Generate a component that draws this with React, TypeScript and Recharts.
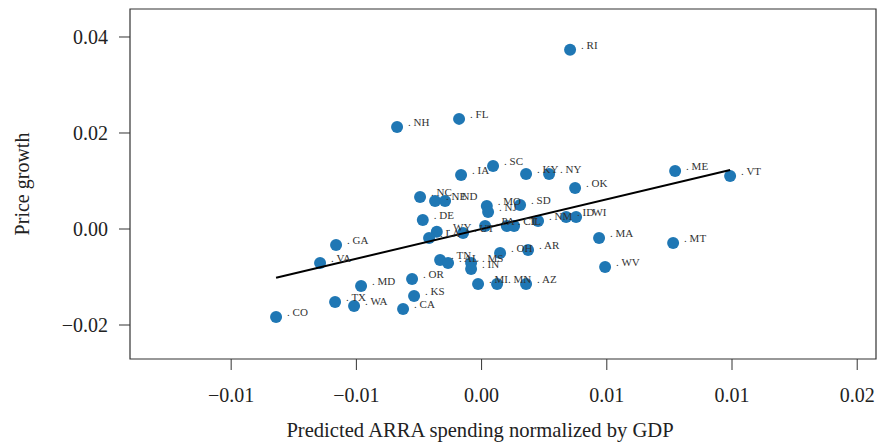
import React from "react";
import {
  ScatterChart,
  Scatter,
  XAxis,
  YAxis,
  ReferenceArea,
} from "recharts";

// state abbreviations, predicted ARRA spending / GDP, price growth
const states = [
  "RI", "NH", "FL", "IA", "SC", "KY", "NY", "OK", "ME", "VT",
  "NC", "NE", "ND", "MO", "NJ", "SD", "DE", "WY", "LA", "UT",
  "PA", "CT", "IL", "NM", "ID", "WI", "GA", "VA", "MA", "MT",
  "WV", "OH", "AR", "TN", "AL", "MS", "IN", "OR", "MD", "MI",
  "MN", "AZ", "KS", "TX", "WA", "CA", "CO",
];
const spending = [
  0.003534, -0.003375, -0.000899, -0.000819, 0.000459, 0.001777, 0.002696, 0.003734, 0.007728, 0.009924,
  -0.002456, -0.001857, -0.001458, 0.000208, 0.00026, 0.001538, -0.002348, -0.001789, -0.002097, -0.000739,
  0.00014, 0.001006, 0.001298, 0.002256, 0.003375, 0.003774, -0.005811, -0.00645, 0.004692, 0.007648,
  0.004932, 0.000739, 0.001857, -0.001657, -0.001338, -0.000419, -0.000419, -0.002776, -0.004812, -0.00014,
  0.000619, 0.001777, -0.002696, -0.00585, -0.005092, -0.003135, -0.008207,
];
const priceGrowth = [
  0.03733, 0.02127, 0.02294, 0.01126, 0.01314, 0.01147, 0.01147, 0.00855, 0.0121, 0.01105,
  0.00667, 0.00584, 0.00584, 0.0048, 0.00355, 0.005, 0.00188, -0.00056, -0.00188, -0.00083,
  0.00063, 0.00063, 0.00063, 0.00167, 0.0025, 0.0025, -0.00334, -0.00709, -0.00188, -0.00292,
  -0.00792, -0.005, -0.00438, -0.00646, -0.00709, -0.00709, -0.00834, -0.01043, -0.01189, -0.01147,
  -0.01147, -0.01147, -0.01397, -0.01522, -0.01606, -0.01668, -0.01835,
];

// fitted line endpoints
const fitX = [-0.008207, 0.009924];
const fitY = [-0.01016, 0.0123];

const xTicks = [-0.01, -0.005, 0, 0.005, 0.01, 0.015];
const xTickLabels = ["\u22120.01", "\u22120.01", "0.00", "0.01", "0.01", "0.02"];
const yTicks = [-0.02, 0, 0.02, 0.04];
const yTickLabels = ["\u22120.02", "0.00", "0.02", "0.04"];

const X_DOMAIN: [number, number] = [-0.01404, 0.01575];
const Y_DOMAIN: [number, number] = [-0.02708, 0.04583];

const FONT = "'Liberation Serif', 'DejaVu Serif', serif";
const BLUE = "#1f77b4";

const points = states.map((s, i) => ({ state: s, x: spending[i], y: priceGrowth[i] }));
const fit = fitX.map((x, i) => ({ x, y: fitY[i] }));

export default function App() {
  return (
    <div style={{ position: "absolute", left: 0, top: 0, width: 877, height: 443, background: "#fff" }}>
      <ScatterChart
        width={877}
        height={443}
        margin={{ top: 9, right: 1, bottom: 0, left: 0 }}
        style={{ fontFamily: FONT }}
      >
        <XAxis
          type="number"
          dataKey="x"
          domain={X_DOMAIN}
          ticks={xTicks}
          allowDataOverflow
          height={84}
          axisLine={false}
          tickLine={{ stroke: "#333" }}
          tickSize={11}
          tickMargin={18}
          tick={{ fill: "#222", fontSize: 20, fontFamily: FONT }}
          tickFormatter={(v: number) => xTickLabels[xTicks.indexOf(v)]}
          label={{
            content: ({ viewBox }: any) => (
              <text
                x={viewBox.x + viewBox.width / 2 - 23}
                y={437}
                textAnchor="middle"
                fill="#222"
                fontSize={20.6}
                fontFamily={FONT}
              >
                Predicted ARRA spending normalized by GDP
              </text>
            ),
          }}
        />
        <YAxis
          type="number"
          dataKey="y"
          domain={Y_DOMAIN}
          ticks={yTicks}
          allowDataOverflow
          width={130}
          axisLine={false}
          tickLine={{ stroke: "#333" }}
          tickSize={11}
          tickMargin={11}
          tick={{ fill: "#222", fontSize: 20, fontFamily: FONT }}
          tickFormatter={(v: number) => yTickLabels[yTicks.indexOf(v)]}
          label={{
            content: ({ viewBox }: any) => {
              const cy = viewBox.y + viewBox.height / 2;
              return (
                <text
                  x={22}
                  y={cy}
                  transform={`rotate(-90, 22, ${cy})`}
                  textAnchor="middle"
                  dominantBaseline="central"
                  fill="#222"
                  fontSize={20}
                  fontFamily={FONT}
                >
                  Price growth
                </text>
              );
            },
          }}
        />
        <ReferenceArea
          x1={X_DOMAIN[0]}
          x2={X_DOMAIN[1]}
          y1={Y_DOMAIN[0]}
          y2={Y_DOMAIN[1]}
          fill="none"
          fillOpacity={0}
          stroke="#333"
          strokeWidth={1.2}
        />
        <Scatter
          data={points}
          isAnimationActive={false}
          shape={(p: any) => <circle cx={p.cx} cy={p.cy} r={6} fill={BLUE} />}
        />
        <Scatter
          data={fit}
          isAnimationActive={false}
          line={{ stroke: "#000", strokeWidth: 2 }}
          shape={() => <g />}
        />
        <Scatter
          data={points}
          isAnimationActive={false}
          shape={(p: any) => (
            <text x={p.cx + 11} y={p.cy - 1} fontSize={11} fill="#333" fontFamily={FONT}>
              . {p.payload.state}
            </text>
          )}
        />
      </ScatterChart>
    </div>
  );
}
